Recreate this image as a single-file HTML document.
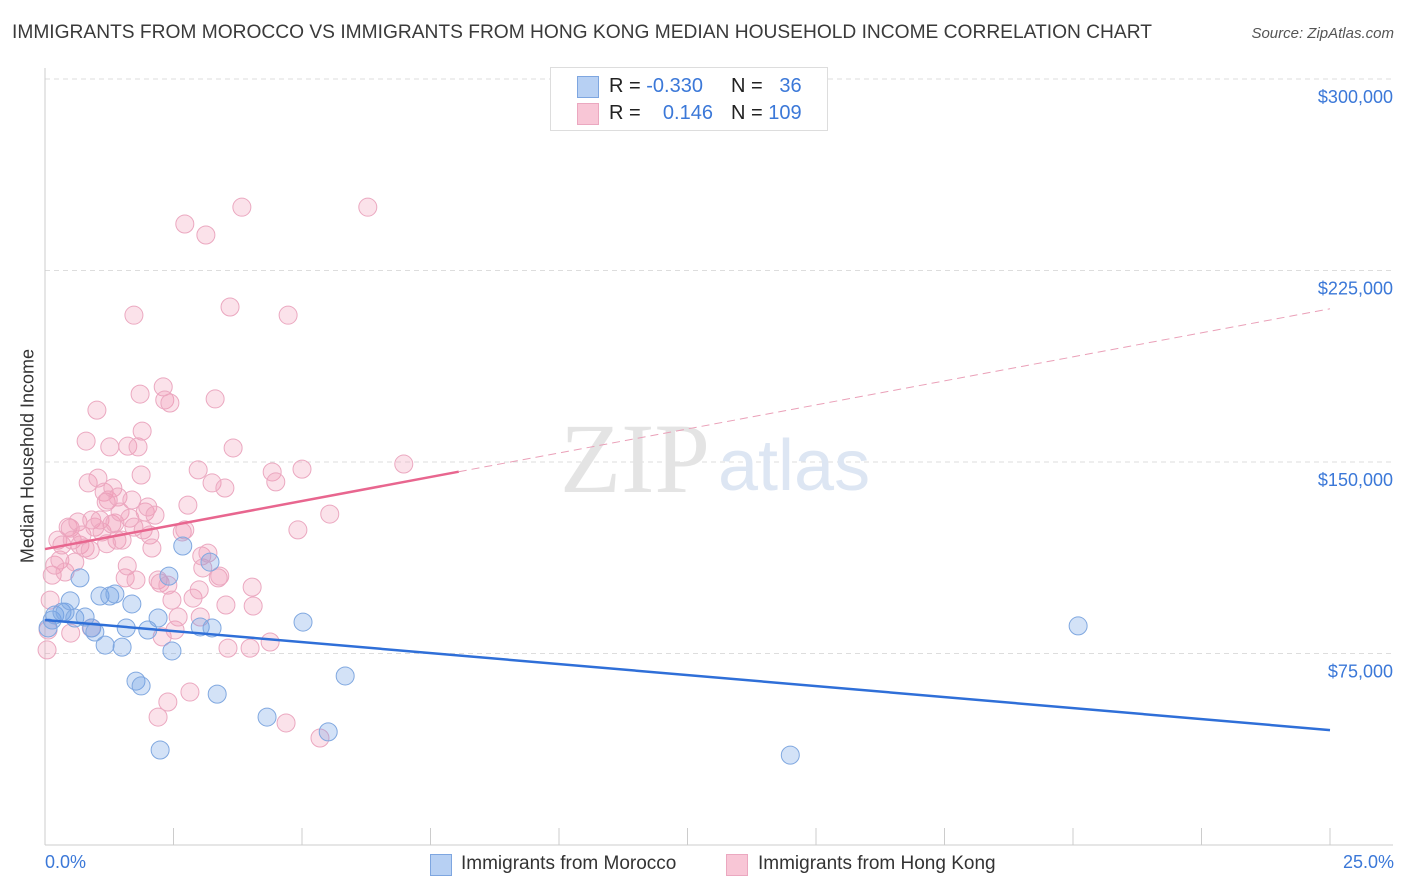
<!DOCTYPE html>
<html><head><meta charset="utf-8">
<style>
body{margin:0;background:#fff;font-family:"Liberation Sans",sans-serif;}
#wrap{position:relative;width:1406px;height:892px;overflow:hidden;}
.t{position:absolute;white-space:nowrap;}
</style></head>
<body>
<div id="wrap">
<div class="t" style="left:12px;top:22px;font-size:19.2px;color:#3a3a3a;">IMMIGRANTS FROM MOROCCO VS IMMIGRANTS FROM HONG KONG MEDIAN HOUSEHOLD INCOME CORRELATION CHART</div>
<div class="t" style="right:12px;top:25px;font-size:15px;color:#555;font-style:italic;">Source: ZipAtlas.com</div>
<svg id="svg" width="1406" height="892" style="position:absolute;left:0;top:0"></svg>
</div>
<script>
const xTicksPct=[0,2.5,5,7.5,10,12.5,15,17.5,20,22.5,25];
const yTicks=[75000,150000,225000,300000];
const yTickLabels=["$75,000","$150,000","$225,000","$300,000"];
const moroccoX=[0.06,0.14,0.19,0.33,0.39,0.49,0.68,0.58,0.78,0.91,0.97,1.07,1.17,1.26,1.36,1.5,1.58,1.69,1.77,1.87,2.0,2.2,2.24,2.41,2.47,2.68,3.02,3.21,3.25,3.35,4.32,5.02,5.51,5.84,14.5,20.1];
const moroccoY=[85,88.1,90.1,91.2,91.2,95.6,104.6,88.9,89.3,85,83.4,97.5,78.3,97.5,98.3,77.5,85,94.4,64.2,62.3,84.2,88.9,37.2,105.3,76,117.1,85.4,110.8,85,59.1,50.1,87.3,44.3,66.2,35.2,85.8];
const hkX=[0.04,0.06,0.1,0.14,0.19,0.25,0.29,0.33,0.39,0.45,0.49,0.53,0.58,0.64,0.68,0.72,0.78,0.8,0.84,0.88,0.91,0.97,1.01,1.03,1.07,1.11,1.15,1.19,1.23,1.26,1.3,1.32,1.36,1.4,1.42,1.46,1.5,1.56,1.6,1.61,1.65,1.69,1.73,1.77,1.81,1.85,1.87,1.89,1.91,1.95,2.0,2.04,2.08,2.14,2.2,2.24,2.28,2.3,2.33,2.39,2.43,2.47,2.53,2.59,2.67,2.72,2.72,2.78,2.82,2.88,2.98,3.0,3.02,3.05,3.07,3.13,3.17,3.25,3.31,3.37,3.4,3.5,3.52,3.56,3.6,3.66,3.83,3.99,4.03,4.05,4.38,4.42,4.49,4.69,4.73,4.92,5.0,5.35,5.54,6.28,6.98,2.2,2.39,1.73,0.5,0.9,1.2];
const hkY=[76.4,84.2,95.9,105.7,109.6,119.4,111.6,117.5,106.9,124.5,124.1,119.4,110.8,126.5,117.5,121.4,116.3,158.2,141.8,115.5,127.3,124.5,170.3,143.7,127.3,122.6,138.2,134.3,135.1,155.9,125.7,139.8,126.1,119.4,136.3,130.4,119.4,104.6,109.3,156.2,128,135.1,124.5,103.8,155.9,176.6,144.9,162.1,123.4,130.4,132.4,121.4,116.3,129.2,103.8,102.6,81.5,179.4,174.3,101.8,173.1,95.9,84.2,89.3,122.6,243.2,123.4,133.1,59.9,96.7,146.9,99.9,89.3,113.2,108.5,238.9,114.3,141.8,174.7,104.6,105.3,139.8,94.0,77.1,210.7,155.5,249.8,77.1,101.0,93.6,79.5,146.1,142.2,47.8,207.5,123.4,147.2,41.9,129.6,249.8,149.2,50.1,56.0,207.5,83,85,118];
const moroccoTrend=[88.1,45.0];
const hkTrend=[115.9,210.0];
const hkSolidEnd=8.05;

const X=p=>45+p*(1285/25);
const Y=v=>845-v/75000*191.5;
const NS="http://www.w3.org/2000/svg";
const svg=document.getElementById('svg');
function mk(tag,at){const e=document.createElementNS(NS,tag);for(const k in at)e.setAttribute(k,at[k]);svg.appendChild(e);return e;}

yTicks.forEach((v,i)=>{
  const g=mk('line',{x1:45,x2:1393,y1:Y(v),y2:Y(v),stroke:'#ddd','stroke-dasharray':'5,4'});
  
  
  const t=mk('text',{x:1393,y:Y(v)+24,'text-anchor':'end','font-size':'18',fill:'#3b78d8','font-family':'Liberation Sans, sans-serif'});
  t.textContent=yTickLabels[i];
  
  
});
const ax=mk('line',{x1:45,x2:45,y1:68,y2:845,stroke:'#ccc'});


const bx=mk('line',{x1:45,x2:1393,y1:845,y2:845,stroke:'#ccc'});


xTicksPct.forEach(p=>{
  const l=mk('line',{x1:X(p),x2:X(p),y1:828,y2:845,stroke:'#ccc'});
  
  
});
const wm=mk('text',{x:635,y:492,'text-anchor':'middle','font-size':'100','font-family':'Liberation Serif, serif',fill:'#e4e4e4'});
wm.textContent='ZIP';


const wm2=mk('text',{x:718,y:490,'font-size':'72','font-family':'Liberation Sans, sans-serif',fill:'#dde6f3'});
wm2.textContent='atlas';



hkX.forEach((x,i)=>{
  const c=mk('circle',{cx:X(x),cy:Y(hkY[i]*1000),r:9,fill:'rgba(240,150,180,0.28)',stroke:'#eba8c0','stroke-width':1});
  
  
});
moroccoX.forEach((x,i)=>{
  const c=mk('circle',{cx:X(x),cy:Y(moroccoY[i]*1000),r:9,fill:'rgba(110,160,230,0.3)',stroke:'#80a8e0','stroke-width':1});
  
  
});
const hy=p=>hkTrend[0]+(hkTrend[1]-hkTrend[0])*p/25;
const l1=mk('line',{x1:X(0),y1:Y(hkTrend[0]*1000),x2:X(hkSolidEnd),y2:Y(hy(hkSolidEnd)*1000),stroke:'#e8668f','stroke-width':2.5});


const l2=mk('line',{x1:X(hkSolidEnd),y1:Y(hy(hkSolidEnd)*1000),x2:X(25),y2:Y(hkTrend[1]*1000),stroke:'#eaa0b8','stroke-width':1,'stroke-dasharray':'8,5'});


const l3=mk('line',{x1:X(0),y1:Y(moroccoTrend[0]*1000),x2:X(25),y2:Y(moroccoTrend[1]*1000),stroke:'#2f6fd8','stroke-width':2.5});


</script>
<div class="t" style="left:28px;top:456px;font-size:18px;color:#333;transform:translate(-50%,-50%) rotate(-90deg);">Median Household Income</div>
<div class="t" style="left:45px;top:852px;font-size:18px;color:#3b78d8;">0.0%</div>
<div class="t" style="right:12px;top:852px;font-size:18px;color:#3b78d8;">25.0%</div>
<div style="position:absolute;left:550px;top:67px;width:276px;height:62px;border:1px solid #ddd;background:#fff;font-size:20px;">
  <div style="position:absolute;left:26px;top:8px;width:20px;height:20px;background:#b7d0f3;border:1px solid #7ea6e0;"></div>
  <div class="t" style="left:58px;top:7px;color:#222;">R = <span style="color:#3b78d8">-0.330</span></div>
  <div class="t" style="left:180px;top:7px;color:#222;">N = <span style="color:#3b78d8">&nbsp;&nbsp;36</span></div>
  <div style="position:absolute;left:26px;top:35px;width:20px;height:20px;background:#f8c6d6;border:1px solid #eba8c0;"></div>
  <div class="t" style="left:58px;top:34px;color:#222;">R = <span style="color:#3b78d8">&nbsp;&nbsp;&nbsp;0.146</span></div>
  <div class="t" style="left:180px;top:34px;color:#222;">N = <span style="color:#3b78d8">109</span></div>
</div>
<div style="position:absolute;left:430px;top:853px;font-size:19px;color:#333;">
  <div style="position:absolute;left:0;top:1px;width:20px;height:20px;background:#b7d0f3;border:1px solid #7ea6e0;"></div>
  <div class="t" style="left:31px;top:0;">Immigrants from Morocco</div>
</div>
<div style="position:absolute;left:726px;top:853px;font-size:19px;color:#333;">
  <div style="position:absolute;left:0;top:1px;width:20px;height:20px;background:#f8c6d6;border:1px solid #eba8c0;"></div>
  <div class="t" style="left:32px;top:0;">Immigrants from Hong Kong</div>
</div>
</body></html>
